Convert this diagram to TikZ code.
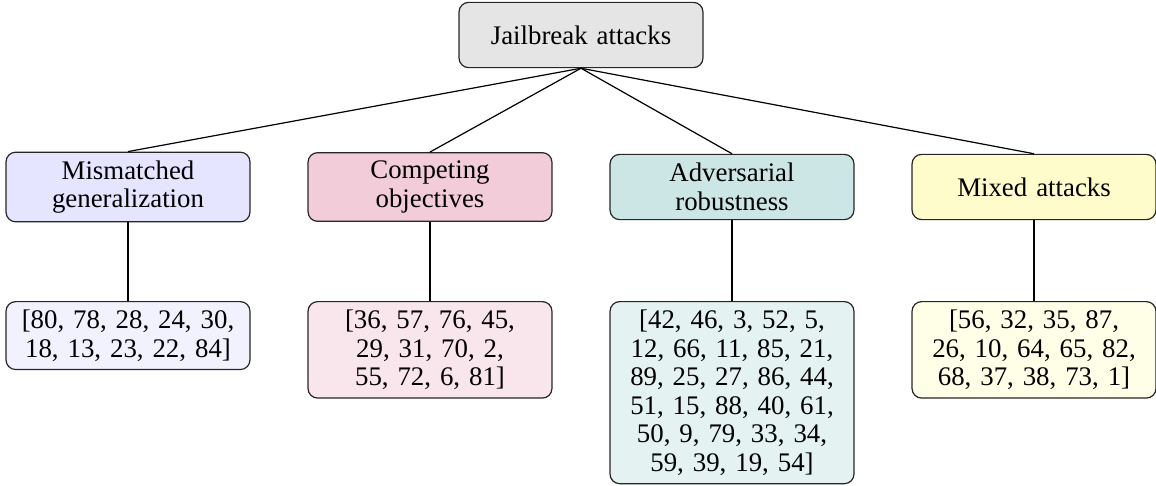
\documentclass[tikz,border=0pt]{standalone}
\usepackage{fontspec}
\setmainfont{Liberation Serif}
\begin{document}
\begin{tikzpicture}[x=0.4136pt,y=-0.4136pt,
  box/.style={draw=black!85, line width=0.5pt, rounded corners=4pt, align=center,
    text width=94pt, inner sep=3.45pt, minimum height=27pt,
    font=\fontsize{11.1pt}{11.8pt}\selectfont},
  link/.style={draw=black, line width=0.5pt}]
\useasboundingbox (0,0) rectangle (1156,486);
\node[box, fill=gray!20] (root) at (581,35) {Jailbreak attacks};
\node[box, fill=blue!10] (mg) at (128,187) {Mismatched\\generalization};
\node[box, fill=purple!20] (co) at (430,187) {Competing\\objectives};
\node[box, fill=teal!20] (ar) at (732,187) {Adversarial\\robustness};
\node[box, fill=yellow!20] (ma) at (1034,187) {Mixed attacks};
\node[box, fill=blue!5, anchor=north] (mgl) at (128,301) {[80, 78, 28, 24, 30,\\18, 13, 23, 22, 84]};
\node[box, fill=purple!10, anchor=north] (col) at (430,301) {[36, 57, 76, 45,\\29, 31, 70, 2,\\55, 72, 6, 81]};
\node[box, fill=teal!10, anchor=north] (arl) at (732,301) {[42, 46, 3, 52, 5,\\12, 66, 11, 85, 21,\\89, 25, 27, 86, 44,\\51, 15, 88, 40, 61,\\50, 9, 79, 33, 34,\\59, 39, 19, 54]};
\node[box, fill=yellow!10, anchor=north] (mal) at (1034,301) {[56, 32, 35, 87,\\26, 10, 64, 65, 82,\\68, 37, 38, 73, 1]};
\foreach \c in {mg,co,ar,ma} {
  \draw[link] (root.south) -- (\c.north);
  \draw[link] (\c.south) -- (\c l.north);
}
\end{tikzpicture}
\end{document}
